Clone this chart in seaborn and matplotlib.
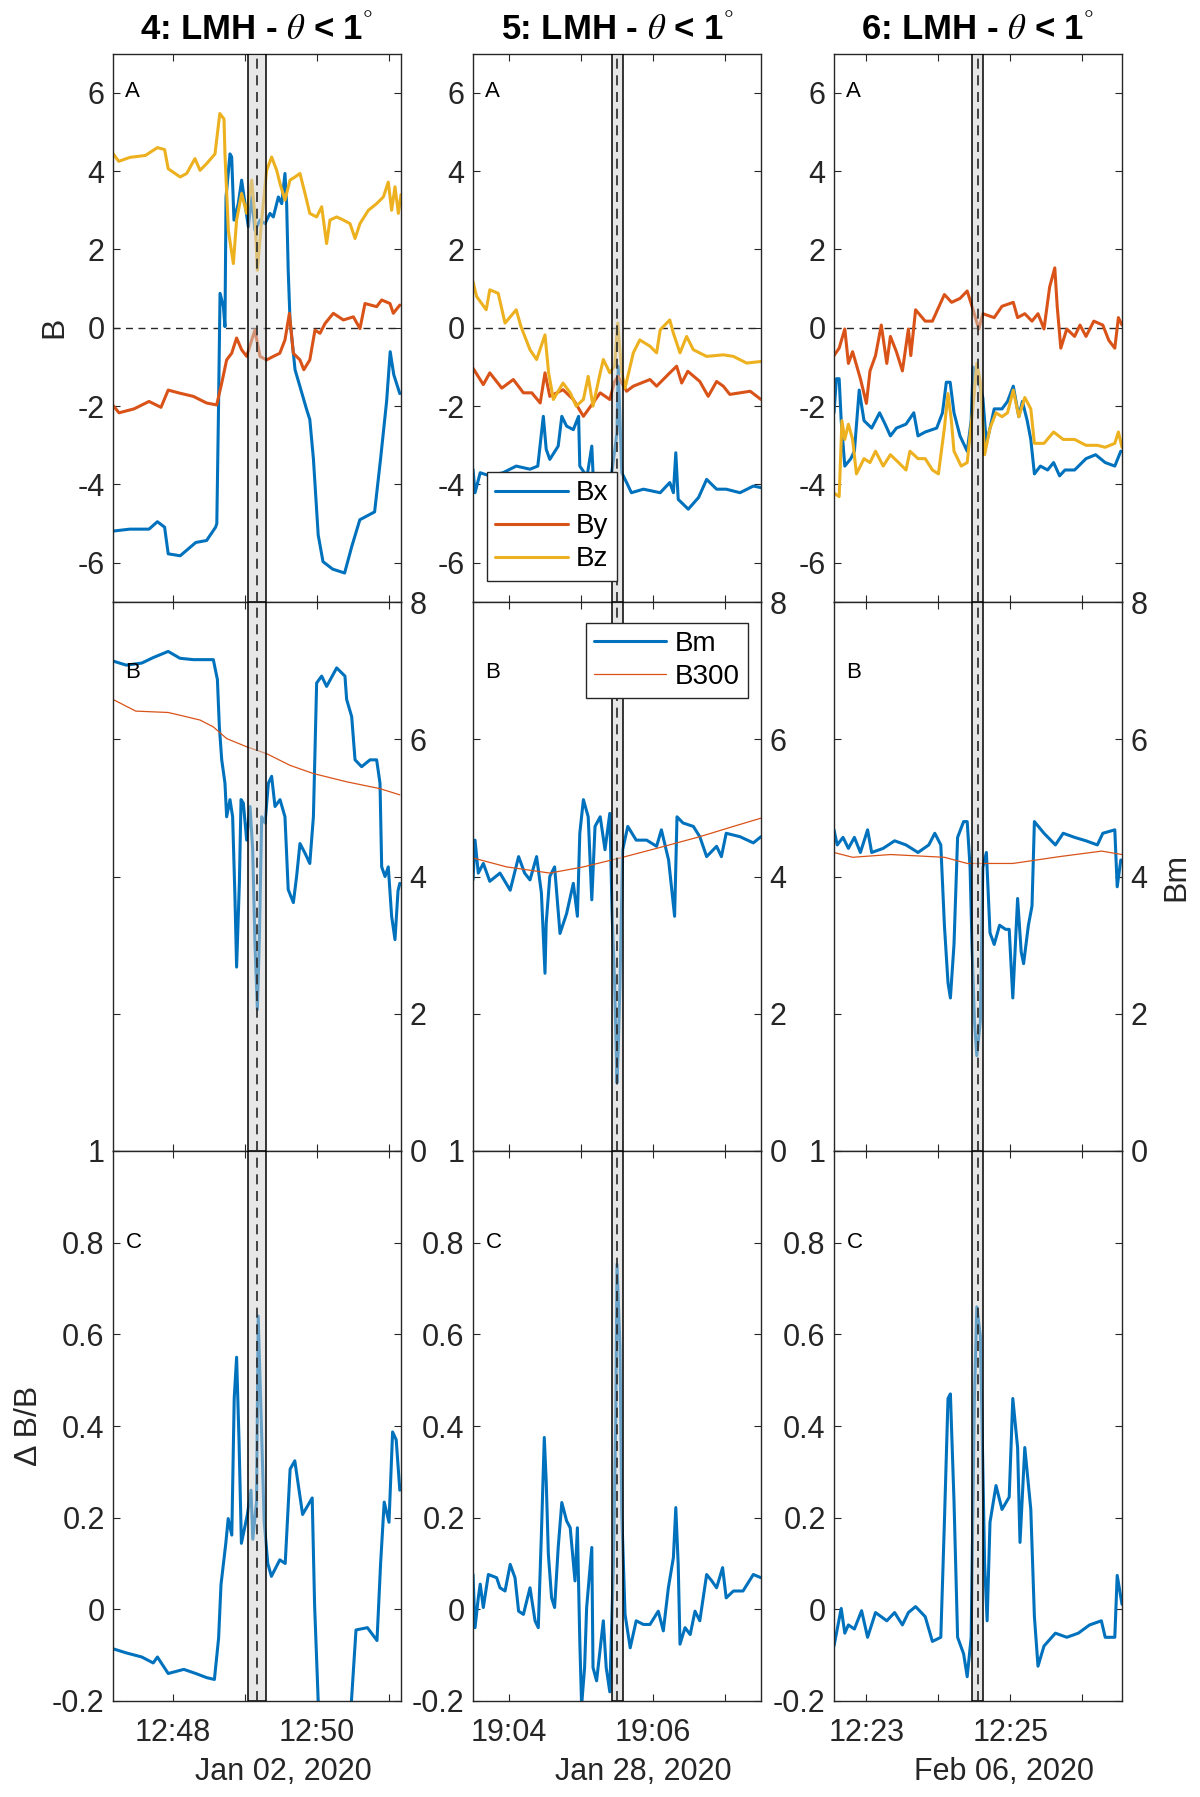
import numpy as np
import pandas as pd
import seaborn as sns
import matplotlib
matplotlib.use("Agg")
import matplotlib.pyplot as plt

# --- event windows (4 min each), seconds counted from window start ---
starts = ["2020-01-02 12:47:10", "2020-01-28 19:03:30", "2020-02-06 12:22:33"]
dates = ["Jan 02, 2020", "Jan 28, 2020", "Feb 06, 2020"]
titles = ["4", "5", "6"]
shade = [(112.2, 127.5), (115.5, 125.2), (115.3, 123.9)]
center = [119.8, 120.0, 119.75]

# --- event 4 ---
BX4 = [(0, -5.19), (14, -5.14), (30, -5.14), (37, -4.95), (43, -5.09), (46, -5.77), (56, -5.82),
       (69, -5.48), (78, -5.43), (85.5, -5.09), (86.5, -5.0), (87.8, -2.34), (89.2, 0.88), (92, 0.54),
       (93.3, 0.03), (94.2, 3.34), (97.5, 4.44), (98.9, 4.36), (100.8, 2.75), (104.4, 3.17),
       (107.2, 3.77), (110, 3.17), (112.8, 2.58), (115.6, 3.34), (118.3, 2.49), (122.5, 2.75),
       (126.7, 2.66), (130.8, 2.92), (133.6, 2.83), (137.8, 3.34), (140.6, 3.17), (143.3, 3.94),
       (144.7, 3.17), (146, 1.47), (147.5, 0.2), (151.7, -1.07), (155.8, -1.5), (161.4, -2.09),
       (164, -2.34), (167, -3.34), (171, -5.29), (175, -5.97), (183, -6.16), (193, -6.26),
       (199, -5.58), (205.7, -4.9), (218, -4.7), (223, -3.34), (228, -1.88), (231, -0.61),
       (234, -1.2), (239, -1.68)]
BY4 = [(0, -1.98), (5, -2.17), (17.5, -2.07), (30, -1.88), (40, -2.03), (46, -1.59), (55.8, -1.67),
       (66.9, -1.75), (78, -1.92), (86.4, -1.97), (90.6, -1.41), (94.7, -0.82), (98.9, -0.65),
       (103, -0.26), (107.2, -0.56), (111.4, -0.73), (115.6, -0.31), (118.3, -0.06), (122.5, -0.73),
       (128, -0.82), (133.6, -0.73), (139, -0.65), (143.3, -0.31), (147, 0.37), (150.3, -0.65),
       (155.8, -0.82), (159, -1.07), (164, -0.82), (168.3, -0.06), (172.5, -0.14), (176.7, 0.11),
       (183.6, 0.37), (192, 0.2), (200.3, 0.28), (205.8, -0.02), (210, 0.62), (219.7, 0.54),
       (223.9, 0.71), (230.8, 0.62), (233.6, 0.37), (239, 0.58)]
BZ4 = [(0, 4.45), (4.8, 4.25), (14, 4.35), (27, 4.4), (37, 4.6), (43, 4.55), (46, 4.06), (56, 3.85),
       (61.4, 3.94), (68.3, 4.32), (72.5, 4.02), (78, 4.19), (85, 4.44), (89, 5.47), (92.5, 5.33),
       (93.3, 4.44), (96.1, 2.49), (100.3, 1.64), (103, 2.75), (107.2, 3.43), (111.4, 2.92),
       (115.6, 3.77), (118.3, 2.83), (120.3, 1.47), (123.9, 2.75), (128, 4.02), (132.2, 4.36),
       (136.4, 4.02), (139.2, 3.68), (143.3, 3.26), (147.5, 3.77), (151.7, 3.85), (155.8, 3.94),
       (160, 3.43), (164, 2.92), (169.7, 2.83), (173.9, 3.09), (178, 2.15), (180.8, 2.75),
       (186.4, 2.83), (192, 2.75), (197.5, 2.66), (201.7, 2.28), (205.8, 2.66), (212.8, 3.0),
       (219.7, 3.17), (225.3, 3.34), (229.4, 3.72), (232.2, 3.0), (235, 3.6), (237.8, 2.92),
       (240, 3.4)]
BM4 = [(0, 7.14), (11, 7.08), (24, 7.11), (33.5, 7.19), (46, 7.28), (55.8, 7.18), (66.9, 7.16),
       (83.6, 7.16), (87, 6.87), (88.6, 6.19), (90.6, 5.7), (93.3, 5.36), (94.7, 4.87), (97.5, 5.12),
       (99.7, 4.87), (101.6, 3.71), (103, 2.68), (105.3, 3.9), (106.7, 5.12), (108.6, 5.07),
       (111.4, 4.53), (114.2, 5.02), (116.4, 4.39), (118.3, 3.02), (120.3, 2.06), (122, 3.1),
       (123.9, 4.87), (126.7, 4.78), (129.5, 5.36), (132.2, 5.46), (135, 5.02), (139.2, 5.12),
       (143.3, 4.87), (146, 3.81), (150.3, 3.62), (153, 4.0), (155.8, 4.48), (160, 4.34),
       (164, 4.19), (167, 4.87), (169.7, 6.82), (173.9, 6.92), (178, 6.77), (186.4, 7.04),
       (193.3, 6.92), (194.7, 6.58), (198.9, 6.33), (201.7, 5.7), (207.2, 5.6), (214.2, 5.7),
       (219.7, 5.7), (222.5, 5.36), (223.9, 4.14), (226.7, 4.0), (229.4, 4.14), (232.2, 3.42),
       (235, 3.08), (237.5, 3.79), (239, 3.9)]
B300_4 = [(0, 6.58), (19, 6.41), (46, 6.39), (55.8, 6.35), (72.5, 6.28), (83.6, 6.18), (94.7, 6.01),
          (111.4, 5.89), (128, 5.79), (147.5, 5.62), (167, 5.5), (194.7, 5.38), (222.5, 5.28),
          (239, 5.19)]
DB4 = [(0, -0.086), (11, -0.095), (24, -0.104), (33.5, -0.117), (37, -0.104), (46, -0.14),
       (59, -0.131), (69, -0.14), (78, -0.149), (84.5, -0.153), (88, -0.063), (90, 0.054),
       (94, 0.144), (96, 0.198), (99, 0.162), (101, 0.46), (103, 0.55), (105, 0.37), (107, 0.144),
       (112, 0.207), (115, 0.26), (116.5, 0.153), (119.6, 0.234), (121, 0.64), (123, 0.46),
       (126, 0.19), (129, 0.1), (132, 0.072), (139, 0.108), (143.5, 0.1), (147.6, 0.306),
       (151.5, 0.324), (158, 0.207), (166, 0.243), (168, 0.009), (171, -0.2), (174, -0.26),
       (196, -0.26), (198.7, -0.2), (202.5, -0.045), (212, -0.04), (220, -0.068), (223, 0.1),
       (226, 0.234), (230, 0.19), (233, 0.387), (236, 0.37), (239, 0.26)]

# --- event 5 ---
BX5 = [(0, -3.61), (1.7, -4.21), (6, -3.7), (14, -3.78), (25, -3.7), (36, -3.53), (47.5, -3.61),
       (54, -3.53), (58.6, -2.26), (61, -3.1), (64, -3.36), (71, -3.02), (74, -2.26), (78, -2.51),
       (83.6, -2.6), (88, -2.26), (89, -3.53), (95, -3.8), (99, -3.02), (100, -3.7), (111, -3.95),
       (115.6, -3.7), (120, -2.68), (121, -0.98), (124, -3.7), (128, -3.95), (132, -4.21),
       (142, -4.12), (156, -4.21), (164, -3.95), (167, -4.21), (169, -3.19), (171, -4.38),
       (179.4, -4.63), (188, -4.33), (194.7, -3.87), (203, -4.12), (211, -4.12), (222.5, -4.21),
       (233.6, -4.04), (240, -4.08)]
BY5 = [(0, -1.03), (8.6, -1.45), (14, -1.15), (24, -1.54), (33.6, -1.32), (42, -1.66), (49, -1.66),
       (56, -1.92), (60, -1.15), (64, -1.75), (75, -1.58), (83.6, -1.83), (92, -2.26), (100, -1.92),
       (106, -1.66), (114, -1.83), (118, -1.37), (121, -1.24), (124, -1.41), (128, -1.62),
       (133.6, -1.49), (147.5, -1.32), (153, -1.49), (164, -1.15), (169.7, -0.98), (173.9, -1.41),
       (179, -1.11), (189, -1.37), (196, -1.75), (203, -1.37), (208.6, -1.49), (214, -1.7),
       (231, -1.62), (240, -1.83)]
BZ5 = [(0, 1.18), (3, 0.8), (11, 0.46), (14, 0.97), (21, 0.88), (26.7, 0.12), (36, 0.46), (40, 0.03),
       (47.5, -0.56), (53, -0.81), (60, -0.18), (63, -1.15), (67, -1.83), (75, -1.41), (81, -1.66),
       (86, -2.0), (92, -1.83), (96, -1.24), (100, -2.0), (106, -1.15), (108.6, -0.81),
       (114, -1.15), (118, -0.98), (120.6, 0.12), (124, -1.15), (126.7, -1.54), (133.6, -0.64),
       (139, -0.31), (147.5, -0.47), (153, -0.64), (156, -0.05), (164, 0.2), (167, -0.14),
       (172.5, -0.64), (178, -0.22), (183.6, -0.56), (194.7, -0.73), (208.6, -0.69), (217, -0.73),
       (228, -0.9), (240, -0.86)]
BM5 = [(0, 3.95), (1.7, 4.53), (4.4, 4.05), (8.6, 4.19), (14, 3.93), (22.5, 4.05), (31, 3.8),
       (38, 4.29), (43, 4.05), (47.5, 3.95), (53, 4.29), (57, 3.76), (60, 2.59), (61, 3.32), (64, 4.0),
       (68, 4.14), (72.5, 3.17), (78, 3.46), (83.6, 3.9), (87, 3.42), (89, 4.63), (92, 5.12),
       (96, 4.87), (99, 3.66), (101.7, 4.73), (106, 4.87), (110, 4.39), (114, 4.92), (116, 3.42),
       (118, 2.44), (120, 0.99), (121, 1.47), (122.5, 2.44), (124.7, 4.39), (129, 4.73),
       (136, 4.53), (144.7, 4.53), (153, 4.44), (157, 4.68), (163, 4.24), (168, 3.42), (170, 4.87),
       (175, 4.78), (183.6, 4.73), (189, 4.58), (194.7, 4.29), (203, 4.44), (207, 4.29),
       (211, 4.63), (222.5, 4.58), (233.6, 4.49), (240, 4.58)]
B300_5 = [(0, 4.27), (28, 4.14), (64, 4.05), (92, 4.14), (122.5, 4.27), (153, 4.41), (189, 4.58),
          (217, 4.73), (240, 4.85)]
DB5 = [(0, 0.076), (1.7, -0.04), (4.4, 0.025), (6, 0.055), (8.6, 0.004), (12.8, 0.076),
       (19.7, 0.069), (22.5, 0.047), (26.7, 0.04), (31, 0.098), (35, 0.069), (38, -0.004),
       (42, -0.011), (47.5, 0.047), (51.7, -0.025), (54.4, -0.04), (57, 0.164), (59.4, 0.375),
       (61, 0.28), (62.8, 0.12), (65.5, 0.025), (68, 0.004), (71, 0.135), (74, 0.233), (78, 0.193),
       (81, 0.178), (85, 0.062), (87, 0.178), (89, -0.07), (90.5, -0.21), (93, -0.127),
       (94.7, 0.004), (99, 0.135), (100, -0.127), (103, -0.156), (108.6, -0.025), (111, -0.127),
       (114, -0.18), (117, 0.098), (119, 0.425), (120, 0.753), (122.5, 0.571), (124, 0.207),
       (126.7, -0.011), (131, -0.084), (136, -0.025), (142, -0.033), (147.5, -0.033),
       (154.4, -0.004), (158.6, -0.047), (162.8, 0.047), (167, 0.113), (169, 0.222), (171, 0.098),
       (172.5, -0.076), (176.7, -0.04), (181, -0.055), (185, -0.004), (189, -0.025),
       (194.7, 0.076), (199, 0.062), (203, 0.047), (208, 0.091), (211, 0.025), (217, 0.04),
       (225, 0.04), (233.6, 0.076), (240, 0.069)]

# --- event 6 ---
BX6 = [(0, -2.17), (2, -1.3), (4.3, -1.3), (6, -2.37), (9, -3.53), (14, -3.34), (17, -3.15),
       (21, -1.59), (25, -2.37), (31.4, -2.56), (38, -2.17), (42.6, -2.46), (47, -2.76),
       (52, -2.56), (60, -2.46), (66.5, -2.17), (70, -2.76), (76, -2.66), (85.6, -2.56),
       (90.4, -2.17), (93.6, -1.39), (96.8, -1.39), (100, -2.17), (105, -2.76), (111, -3.15),
       (114.3, -2.37), (115.9, -1.0), (120.7, -1.39), (124, -1.78), (127, -2.95), (130, -2.56),
       (133.5, -2.07), (140, -2.07), (144.6, -1.88), (149.4, -1.49), (154, -2.27), (157, -1.88),
       (161, -2.37), (164, -2.85), (167, -3.73), (172, -3.53), (178, -3.63), (183, -3.44),
       (188, -3.78), (192.5, -3.63), (200.5, -3.63), (210, -3.34), (218, -3.24), (226, -3.44),
       (234, -3.53), (239, -3.15)]
BY6 = [(0, -0.71), (4.3, -0.52), (9, -0.03), (12, -0.91), (15.5, -0.61), (22, -1.3), (27, -1.93),
       (30, -1.1), (34.6, -0.71), (39.4, 0.07), (44, -0.91), (47, -0.22), (52, -0.61), (57, -1.1),
       (62, -0.03), (64, -0.71), (68, 0.46), (76, 0.17), (82, 0.17), (92, 0.85), (98, 0.65),
       (105, 0.75), (111, 0.94), (115.9, 0.46), (120.7, -0.03), (124, 0.36), (133.5, 0.26),
       (140, 0.55), (149.4, 0.65), (153, 0.26), (159, 0.36), (165, 0.17), (170, 0.36), (175, -0.03),
       (179.7, 1.04), (184, 1.53), (186, 0.55), (189, -0.52), (194, -0.03), (200.5, -0.22),
       (205, 0.07), (210, -0.22), (216.5, 0.17), (224, 0.07), (229, -0.32), (234, -0.52),
       (237, 0.26), (240, 0.07)]
BZ6 = [(0, -4.22), (4.3, -4.31), (6.6, -2.37), (9, -2.85), (12, -2.46), (15.5, -2.85), (18.7, -3.73),
       (25, -3.34), (30, -3.44), (34.6, -3.15), (41, -3.53), (47, -3.24), (53.8, -3.44), (60, -3.63),
       (63.3, -3.15), (70, -3.34), (76, -3.34), (82, -3.63), (87, -3.73), (92, -2.56), (95, -1.68),
       (97.8, -2.37), (100, -3.15), (106, -3.53), (111, -3.44), (116, -1.98), (119, -0.91),
       (122, -1.39), (125.5, -3.24), (130, -2.56), (135, -2.17), (140, -2.27), (144.6, -2.17),
       (149.4, -1.59), (154, -2.27), (159, -1.78), (164, -2.07), (167, -2.95), (175, -2.95),
       (183, -2.66), (191, -2.85), (200.5, -2.85), (210, -3.0), (219.5, -3.0), (226, -3.05),
       (234, -2.95), (237, -2.66), (240, -3.05)]
BM6 = [(0, 4.68), (2.7, 4.46), (7.5, 4.57), (12, 4.41), (17, 4.57), (22, 4.35), (28, 4.68),
       (31.4, 4.35), (41, 4.41), (50.5, 4.52), (60, 4.46), (70, 4.35), (79, 4.46), (84, 4.63),
       (89, 4.46), (92, 3.29), (95, 2.45), (97, 2.23), (100, 3.01), (103, 4.57), (108, 4.8),
       (111, 4.8), (113.4, 4.13), (115, 3.01), (117, 1.9), (119, 1.39), (122, 1.9), (124, 4.13),
       (127, 4.35), (130, 3.18), (133.5, 3.01), (138, 3.29), (143, 3.23), (146, 3.23), (149, 2.23),
       (153, 3.68), (156, 2.9), (158, 2.73), (162, 3.29), (165, 3.57), (167, 4.8), (175, 4.63),
       (184.5, 4.46), (191, 4.63), (200.5, 4.57), (210, 4.52), (219.5, 4.46), (224, 4.63),
       (234, 4.68), (236, 3.85), (239, 4.24)]
B300_6 = [(0, 4.35), (15.5, 4.28), (47, 4.32), (92, 4.28), (111, 4.19), (149, 4.19), (188, 4.29),
          (223, 4.37), (240, 4.32)]
DB6 = [(0, -0.08), (2.7, -0.043), (6, 0.002), (9, -0.052), (12, -0.034), (17, -0.043), (23, -0.003),
       (28, -0.061), (34.6, -0.007), (44, -0.025), (50.5, -0.007), (57, -0.034), (62, -0.007),
       (68, 0.006), (76, -0.016), (82, -0.07), (89, -0.061), (92, 0.19), (95, 0.46), (97, 0.47),
       (100, 0.236), (103, -0.061), (108, -0.097), (111, -0.147), (114.3, -0.061), (117, 0.46),
       (119, 0.66), (122, 0.596), (125.5, 0.1), (127.6, -0.025), (130, 0.19), (135, 0.27),
       (140, 0.218), (146, 0.245), (149, 0.46), (153, 0.353), (155, 0.146), (159, 0.353),
       (164, 0.218), (167, -0.016), (170, -0.124), (175, -0.08), (184.5, -0.052), (194, -0.061),
       (203.6, -0.052), (213, -0.034), (222.8, -0.025), (226, -0.061), (234, -0.061), (236, 0.074),
       (240, 0.011)]

comps = [(BX4, BY4, BZ4), (BX5, BY5, BZ5), (BX6, BY6, BZ6)]
mags = [(BM4, B300_4), (BM5, B300_5), (BM6, B300_6)]
ratios = [DB4, DB5, DB6]

c_bx, c_by, c_bz = "#0072BD", "#D95319", "#EDB120"
ink = "#262626"

sns.set_style("ticks")
plt.rcParams["font.family"] = ["Liberation Sans", "DejaVu Sans"]
plt.rcParams["mathtext.fontset"] = "stix"
plt.rcParams["axes.unicode_minus"] = False
plt.rcParams["axes.edgecolor"] = ink
plt.rcParams["xtick.color"] = ink
plt.rcParams["ytick.color"] = ink
plt.rcParams["text.color"] = "black"


def frame(pairs, t0):
    d = pd.DataFrame(pairs, columns=["s", "v"])
    d["t"] = pd.Timestamp(t0) + pd.to_timedelta(d["s"], unit="s")
    return d


W, H = 1200, 1797
fig = plt.figure(figsize=(W / 100, H / 100), dpi=100)
lefts = [113, 473, 834]
rows = [(53.6, 602), (602, 1151), (1151, 1701)]
letters = ["A", "B", "C"]
letter_y = [0.93, 0.872, 0.833]

for c in range(3):
    t0 = pd.Timestamp(starts[c])
    t1 = t0 + pd.Timedelta(seconds=240)
    first_min = t0.ceil("min")
    ticks = [first_min + pd.Timedelta(minutes=k) for k in range(4)]
    tlabels = [tk.strftime("%H:%M") if k % 2 == 0 else "" for k, tk in enumerate(ticks)]
    for r in range(3):
        top, bot = rows[r]
        ax = fig.add_axes([lefts[c] / W, 1 - bot / H, 288 / W, (bot - top) / H])

        if r == 0:
            for pairs, col, name in zip(comps[c], (c_bx, c_by, c_bz), ("Bx", "By", "Bz")):
                d = frame(pairs, t0)
                sns.lineplot(x=d["t"], y=d["v"], ax=ax, color=col, lw=2.2, label=name,
                             estimator=None, sort=False)
            ax.axhline(0, color=ink, ls=(0, (5, 4)), lw=1.0, zorder=1)
            ax.set_ylim(-7, 7)
            ax.set_yticks([-6, -4, -2, 0, 2, 4, 6])
        elif r == 1:
            d = frame(mags[c][0], t0)
            sns.lineplot(x=d["t"], y=d["v"], ax=ax, color=c_bx, lw=2.2, label="Bm",
                         estimator=None, sort=False)
            d = frame(mags[c][1], t0)
            sns.lineplot(x=d["t"], y=d["v"], ax=ax, color=c_by, lw=0.9, label="B300",
                         estimator=None, sort=False)
            ax.set_ylim(0, 8)
            ax.set_yticks([0, 2, 4, 6, 8])
        else:
            d = frame(ratios[c], t0)
            sns.lineplot(x=d["t"], y=d["v"], ax=ax, color=c_bx, lw=2.2,
                         estimator=None, sort=False)
            ax.set_ylim(-0.2, 1)
            ax.set_yticks([-0.2, 0, 0.2, 0.4, 0.6, 0.8, 1])
            ax.set_yticklabels(["-0.2", "0", "0.2", "0.4", "0.6", "0.8", "1"])

        ax.set_xlim(t0, t1)
        ax.set_xticks(ticks)
        ax.set_xlabel("")
        ax.set_ylabel("")

        # shaded interval + central dashed line
        ax.axvspan(t0 + pd.Timedelta(seconds=shade[c][0]), t0 + pd.Timedelta(seconds=shade[c][1]),
                   facecolor=(0.82, 0.82, 0.82, 0.5), edgecolor="black", lw=1.1, zorder=4)
        ax.axvline(t0 + pd.Timedelta(seconds=center[c]), color=ink, ls=(0, (6, 4)), lw=1.2, zorder=5)

        ax.tick_params(direction="in", length=5, width=0.8, top=True, right=True,
                       labelsize=22, pad=6)
        if r == 2:
            ax.set_xticklabels(tlabels)
            ax.tick_params(axis="x", pad=12)
            ax.text(0.59, -0.129, dates[c], transform=ax.transAxes, ha="center", va="center",
                    fontsize=22, color=ink)
        else:
            ax.set_xticklabels([])
        if r == 1:
            ax.tick_params(axis="y", labelleft=False, labelright=True)
        for sp in ax.spines.values():
            sp.set_visible(True)
            sp.set_linewidth(1.0)

        ax.text(0.043, letter_y[r], letters[r], transform=ax.transAxes, fontsize=16,
                ha="left", va="center")

        leg = ax.get_legend()
        if leg is not None:
            leg.remove()
        if c == 1 and r == 0:
            lg = ax.legend(loc="lower left", bbox_to_anchor=(0.049, 0.039), fontsize=20,
                           frameon=True, fancybox=False, framealpha=1, edgecolor=ink,
                           handlelength=2.6, handletextpad=0.3, labelspacing=0.25,
                           borderpad=0.3, borderaxespad=0)
            lg.set_zorder(6)
        if c == 1 and r == 1:
            lg = ax.legend(loc="upper right", bbox_to_anchor=(0.955, 0.962), fontsize=20,
                           frameon=True, fancybox=False, framealpha=1, edgecolor=ink,
                           handlelength=2.6, handletextpad=0.3, labelspacing=0.25,
                           borderpad=0.3, borderaxespad=0)
            lg.set_zorder(6)

        if r == 0:
            ax.set_title(titles[c] + r": LMH - $\theta$ < 1$^{°}$", fontsize=25,
                         fontweight="bold", pad=10)
        if c == 0 and r == 0:
            ax.set_ylabel("B", fontsize=23, labelpad=6)
        if c == 0 and r == 2:
            ax.set_ylabel("Δ B/B", fontsize=23, labelpad=6)
        if c == 2 and r == 1:
            ax.yaxis.set_label_position("right")
            ax.set_ylabel("Bm", fontsize=23, labelpad=10)

fig.savefig("out.png", dpi=100)
